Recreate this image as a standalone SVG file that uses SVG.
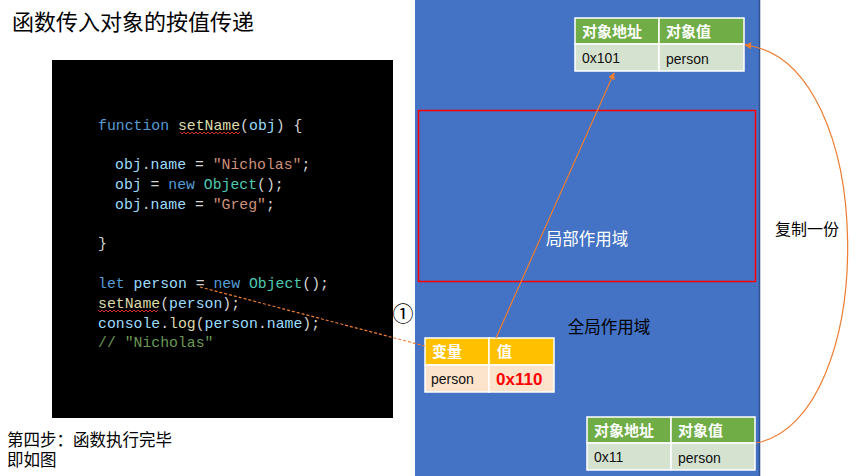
<svg xmlns="http://www.w3.org/2000/svg" width="858" height="476" viewBox="0 0 858 476">
<defs>
<style>
.cn{font-family:"Liberation Sans","Noto Sans CJK SC",sans-serif;}
.code{font-family:"Liberation Mono","DejaVu Sans Mono",monospace;font-size:14.8px;}
.kw{fill:#569CD6}.id{fill:#9CDCFE}.fn{fill:#DCDCAA}.str{fill:#CE9178}.cls{fill:#4EC9B0}.cm{fill:#6A9955}.p{fill:#D4D4D4}
.th{font-family:"Liberation Sans","Noto Sans CJK SC",sans-serif;font-size:15px;font-weight:bold;fill:#fff;}
.td{font-family:"Liberation Sans","Noto Sans CJK SC",sans-serif;font-size:14px;fill:#111;}
.cell{stroke:#fff;stroke-width:1.5;}
.conn{fill:none;stroke:#ED7D31;stroke-width:1.2;}
</style>
<marker id="arr" viewBox="0 0 10 10" refX="9" refY="5" markerWidth="7" markerHeight="7" orient="auto-start-reverse" markerUnits="userSpaceOnUse">
<path d="M0,0 L10,5 L0,10 z" fill="#ED7D31"/>
</marker>
<path id="sq" d="M0,0 l2,2 l2,-2 l2,2 l2,-2 l2,2 l2,-2 l2,2 l2,-2 l2,2 l2,-2 l2,2 l2,-2 l2,2 l2,-2 l2,2 l2,-2 l2,2 l2,-2 l2,2 l2,-2 l2,2 l2,-2 l2,2 l2,-2 l2,2 l2,-2 l2,2 l2,-2 l2,2 l2,-2" fill="none" stroke="#D03030" stroke-width="1"/>
</defs>
<rect width="858" height="476" fill="#fff"/>

<text class="cn" x="12" y="30" font-size="22" fill="#000">函数传入对象的按值传递</text>

<g id="scope-global">
<rect x="415" y="0" width="345" height="476" fill="#4472C4"/>
<line x1="759.5" y1="0" x2="759.5" y2="476" stroke="#2F528F" stroke-width="1.5"/>
<text class="cn" x="609" y="333" font-size="16.5" fill="#000" text-anchor="middle">全局作用域</text>
</g>

<g id="scope-local">
<rect x="418.5" y="110.5" width="337" height="171" fill="none" stroke="#FF0000" stroke-width="1.5"/>
<text class="cn" x="587" y="245" font-size="16.5" fill="#fff" text-anchor="middle">局部作用域</text>
</g>

<g id="code">
<rect x="52" y="60" width="341" height="358" fill="#000"/>
<text class="code" x="98" y="130"><tspan class="kw">function</tspan><tspan class="p"> </tspan><tspan class="fn">setName</tspan><tspan class="p">(</tspan><tspan class="id">obj</tspan><tspan class="p">) {</tspan></text>
<use href="#sq" x="180" y="132"/>
<text class="code" x="115" y="169"><tspan class="id">obj</tspan><tspan class="p">.</tspan><tspan class="id">name</tspan><tspan class="p"> = </tspan><tspan class="str">"Nicholas"</tspan><tspan class="p">;</tspan></text>
<text class="code" x="115" y="189"><tspan class="id">obj</tspan><tspan class="p"> = </tspan><tspan class="kw">new</tspan><tspan class="p"> </tspan><tspan class="cls">Object</tspan><tspan class="p">();</tspan></text>
<text class="code" x="115" y="209"><tspan class="id">obj</tspan><tspan class="p">.</tspan><tspan class="id">name</tspan><tspan class="p"> = </tspan><tspan class="str">"Greg"</tspan><tspan class="p">;</tspan></text>
<text class="code" x="98" y="248"><tspan class="p">}</tspan></text>
<text class="code" x="98" y="288"><tspan class="kw">let</tspan><tspan class="p"> </tspan><tspan class="id">person</tspan><tspan class="p"> = </tspan><tspan class="kw">new</tspan><tspan class="p"> </tspan><tspan class="cls">Object</tspan><tspan class="p">();</tspan></text>
<text class="code" x="98" y="308"><tspan class="fn">setName</tspan><tspan class="p">(</tspan><tspan class="id">person</tspan><tspan class="p">);</tspan></text>
<use href="#sq" x="98" y="310"/>
<text class="code" x="98" y="328"><tspan class="id">console</tspan><tspan class="p">.</tspan><tspan class="fn">log</tspan><tspan class="p">(</tspan><tspan class="id">person</tspan><tspan class="p">.</tspan><tspan class="id">name</tspan><tspan class="p">);</tspan></text>
<text class="code" x="98" y="347"><tspan class="cm">// "Nicholas"</tspan></text>
</g>

<text class="cn" x="7" y="446" font-size="16.5" fill="#000">第四步：函数执行完毕</text>
<text class="cn" x="7" y="466" font-size="16.5" fill="#000">即如图</text>

<text x="403" y="321" font-family="'Noto Sans CJK SC','DejaVu Sans',sans-serif" font-size="21" fill="#000" text-anchor="middle">①</text>

<g id="var-table">
<rect class="cell" x="425" y="338" width="64" height="27" fill="#FFC000"/>
<rect class="cell" x="489" y="338" width="65" height="27" fill="#FFC000"/>
<rect class="cell" x="425" y="365" width="64" height="27" fill="#FCE4CC"/>
<rect class="cell" x="489" y="365" width="65" height="27" fill="#FCE4CC"/>
<text class="th" x="432" y="357">变量</text>
<text class="th" x="497" y="357">值</text>
<text class="td" x="431" y="384">person</text>
<text x="496" y="385" font-family="Liberation Sans,sans-serif" font-size="17" font-weight="bold" fill="#FF0000">0x110</text>
</g>

<g id="obj-table-top">
<rect class="cell" x="575" y="18" width="84" height="26" fill="#70AD47"/>
<rect class="cell" x="659" y="18" width="85" height="26" fill="#70AD47"/>
<rect class="cell" x="575" y="44" width="84" height="27" fill="#D5E2CF"/>
<rect class="cell" x="659" y="44" width="85" height="27" fill="#D5E2CF"/>
<text class="th" x="582" y="37">对象地址</text>
<text class="th" x="666" y="37">对象值</text>
<text class="td" x="582" y="63">0x101</text>
<text class="td" x="666" y="64" font-size="15">person</text>
</g>

<g id="obj-table-bottom">
<rect class="cell" x="587" y="417" width="84" height="26" fill="#70AD47"/>
<rect class="cell" x="671" y="417" width="84" height="26" fill="#70AD47"/>
<rect class="cell" x="587" y="443" width="84" height="27" fill="#D5E2CF"/>
<rect class="cell" x="671" y="443" width="84" height="27" fill="#D5E2CF"/>
<text class="th" x="594" y="436">对象地址</text>
<text class="th" x="678" y="436">对象值</text>
<text class="td" x="594" y="462">0x11</text>
<text class="td" x="678" y="463" font-size="15">person</text>
</g>

<text class="cn" x="807" y="235" font-size="16" fill="#000" text-anchor="middle">复制一份</text>

<g id="connectors">
<line class="conn" x1="200" y1="287" x2="425" y2="346" stroke-dasharray="3,2"/>
<line class="conn" x1="496" y1="338" x2="614" y2="73" marker-end="url(#arr)"/>
<path class="conn" d="M756,443 C880,420 880,60 745,45" marker-end="url(#arr)"/>
</g>
</svg>
